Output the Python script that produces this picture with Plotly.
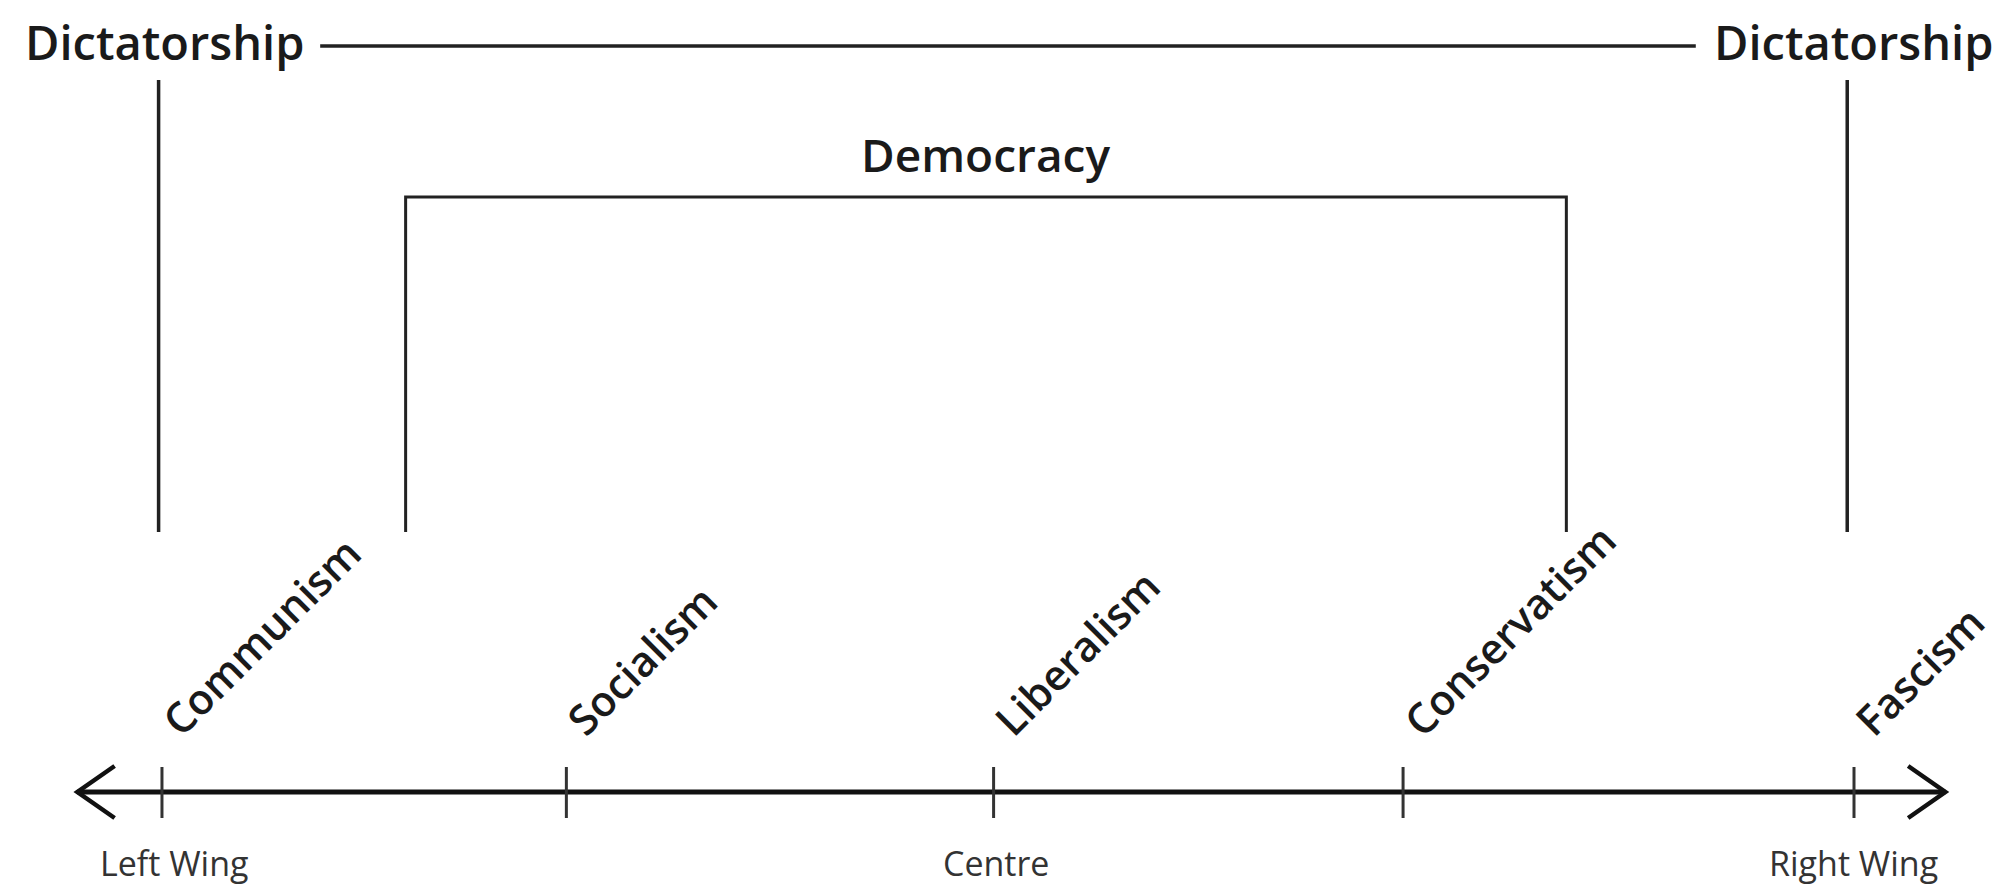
import plotly.graph_objects as go

# ---- data (spectrum units: -10 = far left, +10 = far right; heights in units above the axis) ----
ideologies = ["Communism", "Socialism", "Liberalism", "Conservatism", "Fascism"]
ideology_pos = [-10.0, -5.22, -0.17, 4.67, 10.0]

wing_labels = ["Left Wing", "Centre", "Right Wing"]
wing_pos = [-9.85, -0.14, 9.99]

axis_ends = [-11.0, 11.08]

dict_label = "Dictatorship"
dict_verticals = [-10.04, 9.92]
dict_bar_ends = [-8.13, 8.13]
dict_bar_height = 746
dict_vert_range = [260, 712]

dem_label = "Democracy"
dem_verticals = [-7.12, 6.6]
dem_bar_height = 595
dem_vert_bottom = 260

# ---- figure ----
LINE = "#222222"
TEXT = "#1a1a1a"
fig = go.Figure()

def seg(xs, ys, width, color=LINE):
    fig.add_trace(go.Scatter(x=xs, y=ys, mode="lines",
                             line=dict(color=color, width=width),
                             hoverinfo="skip", showlegend=False))

# spectrum axis
seg(axis_ends, [0, 0], 5, "#111111")
# arrowheads (open chevrons)
head_dx, head_dy = 0.44, 26
seg([axis_ends[0] + head_dx, axis_ends[0], axis_ends[0] + head_dx], [head_dy, 0, -head_dy], 4.5, "#111111")
seg([axis_ends[1] - head_dx, axis_ends[1], axis_ends[1] - head_dx], [head_dy, 0, -head_dy], 4.5, "#111111")

# ticks
for p in ideology_pos:
    seg([p, p], [25, -26], 3, "#333333")

# dictatorship bar + verticals
seg(dict_bar_ends, [dict_bar_height, dict_bar_height], 3.5)
for v in dict_verticals:
    seg([v, v], dict_vert_range, 3.5)

# democracy bracket
seg([dem_verticals[0], dem_verticals[0], dem_verticals[1], dem_verticals[1]],
    [dem_vert_bottom, dem_bar_height, dem_bar_height, dem_vert_bottom], 3)

BOLD = dict(family="Open Sans", size=47, color=TEXT, weight=600)

fig.add_annotation(x=dict_bar_ends[0], y=dict_bar_height, text=dict_label, showarrow=False,
                   xanchor="right", yanchor="middle", xshift=-14, yshift=4, font=BOLD)
fig.add_annotation(x=dict_bar_ends[1], y=dict_bar_height, text=dict_label, showarrow=False,
                   xanchor="left", yanchor="middle", xshift=16, yshift=4, font=BOLD)
fig.add_annotation(x=(dem_verticals[0] + dem_verticals[1]) / 2, y=dem_bar_height, text=dem_label,
                   showarrow=False, xanchor="center", yanchor="bottom", yshift=10,
                   font=dict(family="Open Sans", size=46, color=TEXT, weight=600))

for name, p in zip(ideologies, ideology_pos):
    fig.add_annotation(x=p, y=42, text=name, showarrow=False, textangle=-45,
                       xanchor="left", yanchor="bottom", xshift=-15,
                       font=dict(family="Open Sans", size=42, color=TEXT, weight=600))

for name, p in zip(wing_labels, wing_pos):
    fig.add_annotation(x=p, y=-46, text=name, showarrow=False,
                       xanchor="center", yanchor="top",
                       font=dict(family="Open Sans", size=34, color="#333333"))

fig.update_layout(
    width=2002, height=885,
    margin=dict(l=0, r=0, t=0, b=0),
    paper_bgcolor="white", plot_bgcolor="white",
    xaxis=dict(range=[-11.82, 11.844], visible=False, fixedrange=True),
    yaxis=dict(range=[-101, 784], visible=False, fixedrange=True),
    showlegend=False,
)

fig.write_html("out.html", config={"displayModeBar": False})
